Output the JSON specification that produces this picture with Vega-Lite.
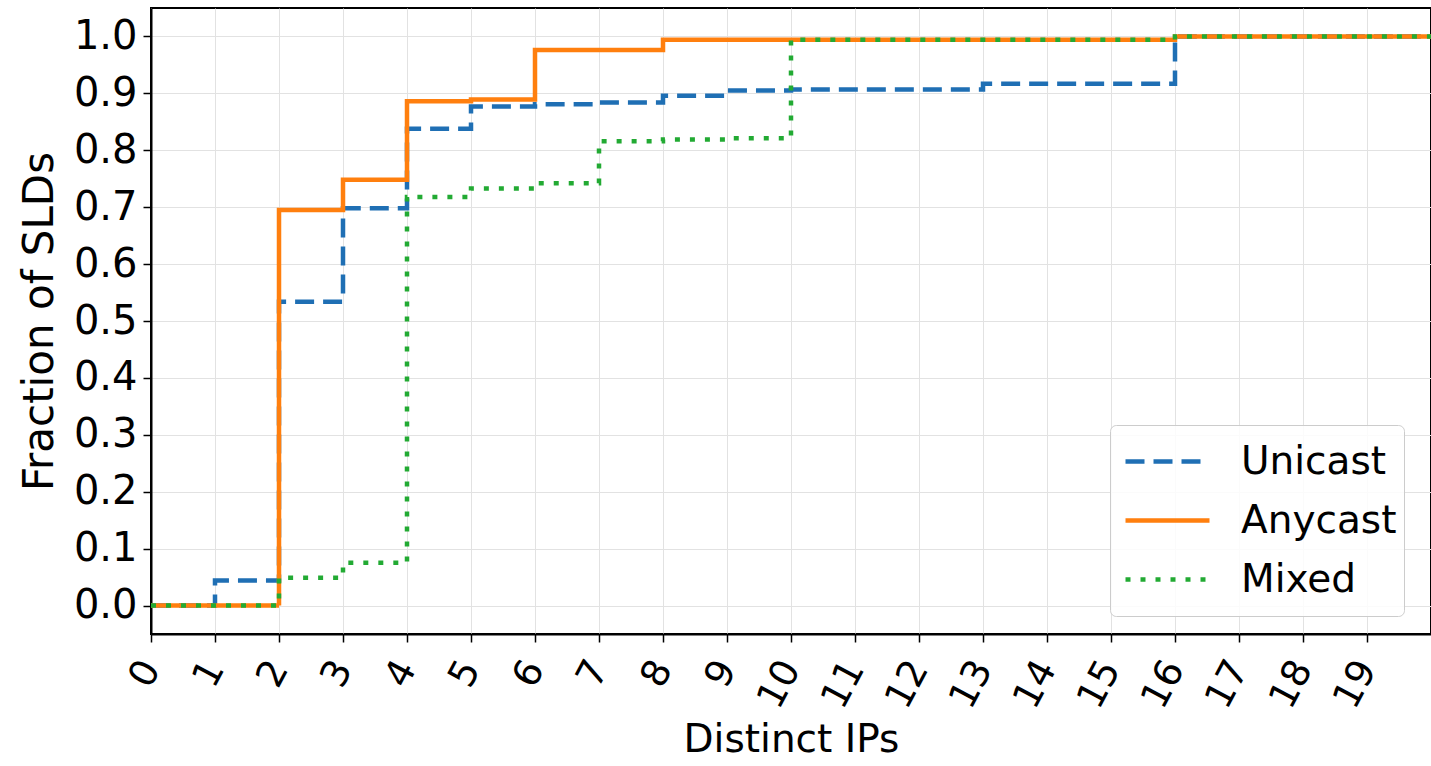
{
  "$schema": "https://vega.github.io/schema/vega-lite/v6.json",
  "width": 1280,
  "height": 626,
  "autosize": {"type": "none"},
  "padding": {"left": 151, "top": 8, "right": 0, "bottom": 132},
  "background": "white",
  "config": {
    "view": {"stroke": "#000000", "strokeWidth": 2},
    "font": "DejaVu Sans",
    "axis": {
      "domainColor": "#000000", "domainWidth": 2, "tickColor": "#000000", "tickWidth": 1.5, "tickSize": 8,
      "gridColor": "#e2e2e2", "gridWidth": 1, "labelColor": "#000000", "titleColor": "#000000",
      "titleFontWeight": "normal", "labelFont": "DejaVu Sans", "titleFont": "DejaVu Sans"
    },
    "legend": {
      "orient": "none", "legendX": 959, "legendY": 417,
      "symbolType": "stroke", "symbolSize": 7056, "symbolStrokeWidth": 4.5,
      "labelFontSize": 39, "labelOffset": 29, "labelFont": "DejaVu Sans", "labelColor": "#000000",
      "clipHeight": 59, "rowPadding": 0, "padding": 7, "symbolOffset": 6,
      "fillColor": "rgba(255,255,255,0.85)", "strokeColor": "#cccccc", "cornerRadius": 6
    }
  },
  "data": {"values": [
    {"series": "Unicast", "ips": 0, "frac": 0},
    {"series": "Unicast", "ips": 1, "frac": 0.044},
    {"series": "Unicast", "ips": 2, "frac": 0.534},
    {"series": "Unicast", "ips": 3, "frac": 0.698},
    {"series": "Unicast", "ips": 4, "frac": 0.838},
    {"series": "Unicast", "ips": 5, "frac": 0.877},
    {"series": "Unicast", "ips": 6, "frac": 0.881},
    {"series": "Unicast", "ips": 7, "frac": 0.884},
    {"series": "Unicast", "ips": 8, "frac": 0.896},
    {"series": "Unicast", "ips": 9, "frac": 0.905},
    {"series": "Unicast", "ips": 10, "frac": 0.907},
    {"series": "Unicast", "ips": 13, "frac": 0.917},
    {"series": "Unicast", "ips": 16, "frac": 1.0},
    {"series": "Unicast", "ips": 20, "frac": 1.0},
    {"series": "Anycast", "ips": 0, "frac": 0},
    {"series": "Anycast", "ips": 2, "frac": 0.695},
    {"series": "Anycast", "ips": 3, "frac": 0.748},
    {"series": "Anycast", "ips": 4, "frac": 0.886},
    {"series": "Anycast", "ips": 5, "frac": 0.889},
    {"series": "Anycast", "ips": 6, "frac": 0.976},
    {"series": "Anycast", "ips": 8, "frac": 0.994},
    {"series": "Anycast", "ips": 16, "frac": 1.0},
    {"series": "Anycast", "ips": 20, "frac": 1.0},
    {"series": "Mixed", "ips": 0, "frac": 0},
    {"series": "Mixed", "ips": 2, "frac": 0.049},
    {"series": "Mixed", "ips": 3, "frac": 0.075},
    {"series": "Mixed", "ips": 4, "frac": 0.718},
    {"series": "Mixed", "ips": 5, "frac": 0.733},
    {"series": "Mixed", "ips": 6, "frac": 0.742},
    {"series": "Mixed", "ips": 7, "frac": 0.816},
    {"series": "Mixed", "ips": 8, "frac": 0.819},
    {"series": "Mixed", "ips": 9, "frac": 0.821},
    {"series": "Mixed", "ips": 10, "frac": 0.994},
    {"series": "Mixed", "ips": 16, "frac": 1.0},
    {"series": "Mixed", "ips": 20, "frac": 1.0}
  ]},
  "mark": {"type": "line", "interpolate": "step-after", "strokeWidth": 4.5, "clip": true},
  "encoding": {
    "x": {
      "field": "ips", "type": "quantitative",
      "scale": {"domain": [0, 20], "nice": false, "zero": false},
      "axis": {
        "values": [0,1,2,3,4,5,6,7,8,9,10,11,12,13,14,15,16,17,18,19],
        "title": "Distinct IPs", "titleFontSize": 39, "titlePadding": 6,
        "labelFontSize": 38, "labelAngle": -62, "labelAlign": "right", "labelBaseline": "middle",
        "labelPadding": 21, "labelOverlap": false
      }
    },
    "y": {
      "field": "frac", "type": "quantitative",
      "scale": {"domain": [-0.05, 1.05], "nice": false, "zero": false},
      "axis": {
        "values": [0,0.1,0.2,0.3,0.4,0.5,0.6,0.7,0.8,0.9,1.0], "format": ".1f",
        "title": "Fraction of SLDs", "titleFontSize": 42, "titlePadding": 12,
        "labelFontSize": 40, "labelPadding": 6, "labelOverlap": false
      }
    },
    "color": {
      "field": "series", "type": "nominal",
      "scale": {"domain": ["Unicast", "Anycast", "Mixed"], "range": ["#1f6fb4", "#ff7f0e", "#22aa33"]},
      "legend": {"title": null}
    },
    "strokeDash": {
      "field": "series", "type": "nominal",
      "scale": {"domain": ["Unicast", "Anycast", "Mixed"], "range": [[19, 9], [1, 0], [5, 10]]},
      "legend": {"title": null}
    }
  }
}
